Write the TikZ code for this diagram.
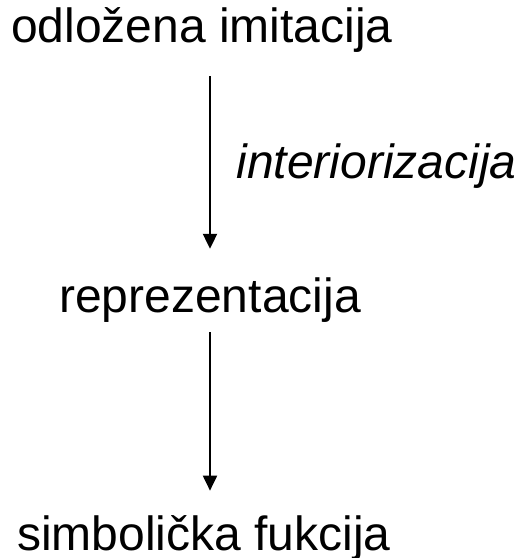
\documentclass[tikz,border=0pt]{standalone}
\usepackage{fontspec}
\setmainfont{Liberation Sans}
\usetikzlibrary{arrows.meta}

\begin{document}
\begin{tikzpicture}[x=0.5pt,y=-0.5pt]
  \tikzstyle{stage}=[inner sep=0pt,font=\fontsize{24}{28}\selectfont]
  \tikzstyle{flow}=[line width=1pt,-{Triangle[length=7.5pt,width=7pt]}]
  \useasboundingbox (0,0) rectangle (523,558);
  \node[stage,anchor=base] (imit) at (202,42) {odložena imitacija};
  \node[stage,anchor=base] (repr) at (210,312) {reprezentacija};
  \node[stage,anchor=base] (simb) at (204,550) {simbolička fukcija};
  \node[stage,anchor=base west,font=\fontsize{24}{28}\selectfont\itshape] (inter) at (236,178) {interiorizacija};
  \draw[flow,shorten <=12pt,shorten >=14pt] (repr |- imit.south) -- (repr.north);
  \draw[flow,shorten <=5pt,shorten >=12pt] (repr.south) -- (repr |- simb.north);
\end{tikzpicture}
\end{document}
